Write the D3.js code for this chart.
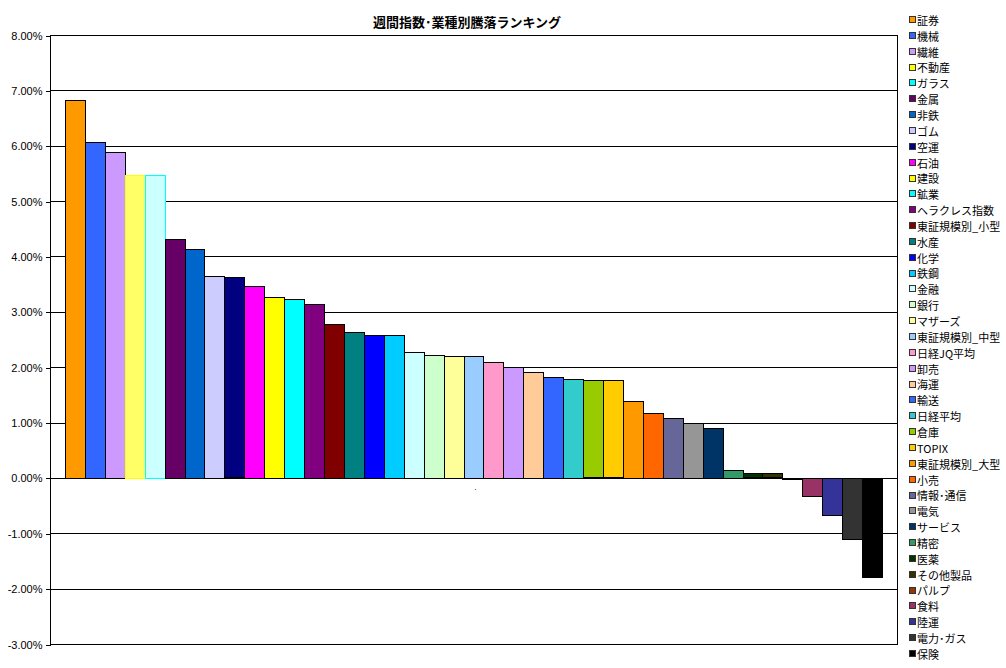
<!DOCTYPE html>
<html><head><meta charset="utf-8">
<script src="https://cdn.jsdelivr.net/npm/d3@7"></script>
<style>
html,body{margin:0;padding:0;background:#fff;}
svg{display:block;font-family:"Noto Sans CJK JP","Noto Sans",sans-serif;}
</style></head>
<body>
<svg id="chart" width="1006" height="668"></svg>
<script>
const title = "週間指数･業種別騰落ランキング";
const categories = ["証券","機械","繊維","不動産","ガラス","金属","非鉄","ゴム","空運","石油","建設","鉱業","ヘラクレス指数","東証規模別_小型","水産","化学","鉄鋼","金融","銀行","マザーズ","東証規模別_中型","日経JQ平均","卸売","海運","輸送","日経平均","倉庫","TOPIX","東証規模別_大型","小売","情報･通信","電気","サービス","精密","医薬","その他製品","パルプ","食料","陸運","電力･ガス","保険"];
const values = [6.82,6.06,5.88,5.48,5.48,4.31,4.13,3.64,3.62,3.46,3.27,3.23,3.14,2.78,2.63,2.58,2.58,2.27,2.22,2.20,2.20,2.09,2.00,1.91,1.82,1.78,1.76,1.76,1.39,1.17,1.08,1.00,0.90,0.14,0.08,0.08,-0.02,-0.33,-0.66,-1.11,-1.78];
const fills = ["#FF9900","#3366FF","#CC99FF","#FFFF66","#CCFFFF","#660066","#0066CC","#CCCCFF","#000080","#FF00FF","#FFFF00","#00FFFF","#800080","#800000","#008080","#0000FF","#00CCFF","#CCFFFF","#CCFFCC","#FFFF99","#99CCFF","#FF99CC","#CC99FF","#FFCC99","#3366FF","#33CCCC","#99CC00","#FFCC00","#FF9900","#FF6600","#666699","#969696","#003366","#339966","#003300","#333300","#993300","#993366","#333399","#333333","#000000"];
const strokes = ["#000","#000","#000","#FFFF00","#00FFFF","#000","#000","#000","#000","#000","#000","#000","#000","#000","#000","#000","#000","#000","#000","#000","#000","#000","#000","#000","#000","#000","#000","#000","#000","#000","#000","#000","#000","#000","#000","#000","#000","#000","#000","#000","#000"];
const legendFills = ["#FF9900","#3366FF","#CC99FF","#FFFF00","#00FFFF","#660066","#0066CC","#CCCCFF","#000080","#FF00FF","#FFFF00","#00FFFF","#800080","#800000","#008080","#0000FF","#00CCFF","#CCFFFF","#CCFFCC","#FFFF99","#99CCFF","#FF99CC","#CC99FF","#FFCC99","#3366FF","#33CCCC","#99CC00","#FFCC00","#FF9900","#FF6600","#666699","#969696","#003366","#339966","#003300","#333300","#993300","#993366","#333399","#333333","#000000"];
const yTicks = [-3,-2,-1,0,1,2,3,4,5,6,7,8];
const categoryLabel = ".";

const svg = d3.select("#chart");
const L = 50, R = 897, T = 35, B = 644;

const x = d3.scaleBand().domain(categories).range([L, R]).paddingInner(0).paddingOuter(0.75);
const y = d3.scaleLinear().domain([-3, 8]).range([B, T]);

// gridlines
svg.append("g").selectAll("line").data(yTicks).join("line")
  .attr("x1", L).attr("x2", R)
  .attr("y1", d => Math.round(y(d)) + 0.5).attr("y2", d => Math.round(y(d)) + 0.5)
  .attr("stroke", "#000").attr("stroke-width", 1).attr("shape-rendering", "crispEdges");

// bars
svg.append("g").selectAll("rect").data(categories).join("rect")
  .attr("x", d => Math.round(x(d)) + 0.5)
  .attr("width", d => Math.round(x(d) + x.bandwidth()) - Math.round(x(d)))
  .attr("y", (d, i) => Math.round(y(Math.max(0, values[i]))) + 0.5)
  .attr("height", (d, i) => Math.max(1, Math.round(Math.abs(y(values[i]) - y(0)))))
  .attr("fill", (d, i) => fills[i])
  .attr("stroke", (d, i) => strokes[i])
  .attr("stroke-width", (d, i) => strokes[i] === "#000" ? 1 : 1.6)
  .attr("shape-rendering", "crispEdges");

// plot border (right & bottom & left)
svg.append("rect").attr("x", L + 0.5).attr("y", Math.round(y(8)) + 0.5)
  .attr("width", R - L).attr("height", Math.round(y(-3)) - Math.round(y(8)))
  .attr("fill", "none").attr("stroke", "#000").attr("shape-rendering", "crispEdges");

// y axis
const yAxis = d3.axisLeft(y).tickValues(yTicks).tickSize(5).tickPadding(3)
  .tickFormat(d => d.toFixed(2) + "%");
const ga = svg.append("g").attr("transform", `translate(${L + 0.5},0.5)`).call(yAxis);
ga.select(".domain").remove();
ga.selectAll("line").attr("stroke", "#000").attr("shape-rendering", "crispEdges");
ga.selectAll("text").attr("font-size", 11).attr("fill", "#000")
  .attr("font-family", "'Liberation Sans','DejaVu Sans',sans-serif");

// category label (tiny)
svg.append("text").attr("x", (L + R) / 2 + 2).attr("y", 490).attr("text-anchor", "middle")
  .attr("font-size", 7).attr("fill", "#000").text(categoryLabel);

// title
svg.append("text").attr("x", 467).attr("y", 27).attr("text-anchor", "middle")
  .attr("font-size", 13).attr("font-weight", "bold").attr("fill", "#000").text(title);

// legend
const lg = svg.append("g").selectAll("g").data(categories).join("g")
  .attr("transform", (d, i) => `translate(909,${21 + i * 15.85})`);
lg.append("rect").attr("x", 0.5).attr("y", -4.5).attr("width", 6).attr("height", 6)
  .attr("fill", (d, i) => legendFills[i]).attr("stroke", "#333").attr("stroke-width", 1)
  .attr("shape-rendering", "crispEdges");
lg.append("text").attr("x", 8).attr("y", 0).attr("dy", "0.35em")
  .attr("font-size", 11).attr("fill", "#000").text(d => d);
</script>
</body></html>
